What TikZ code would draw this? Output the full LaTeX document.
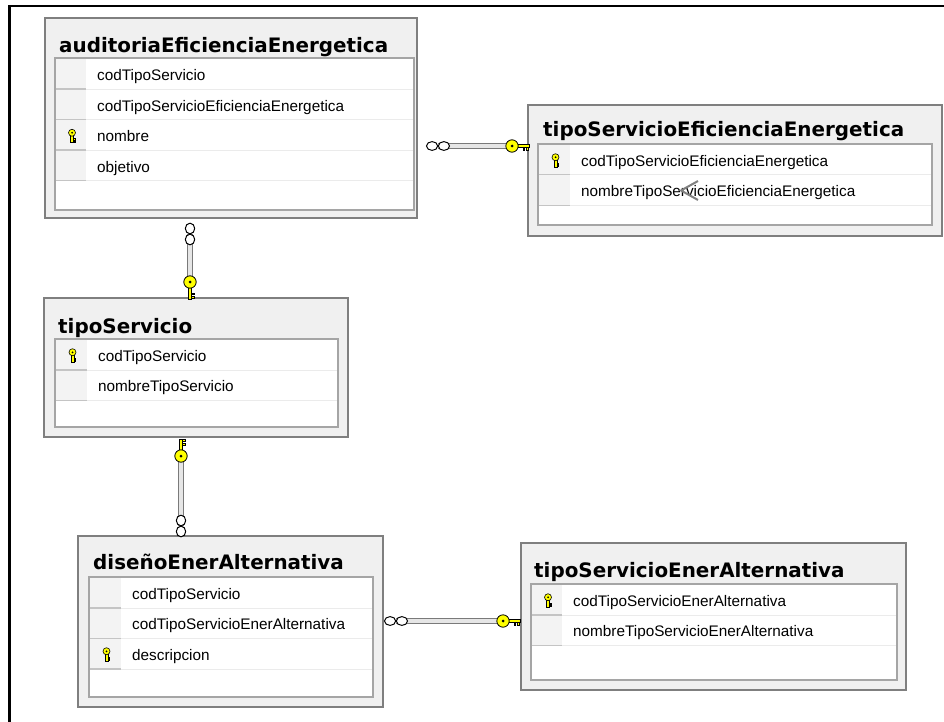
\documentclass[tikz,border=0pt]{standalone}
\usepackage{fontspec}
\setmainfont{Liberation Sans}
\newfontfamily\titlefont{DejaVu Sans}
\usetikzlibrary{calc}

\definecolor{boxfill}{HTML}{F0F0F0}
\definecolor{boxedge}{HTML}{7F7F7F}
\definecolor{inneredge}{HTML}{A5A5A5}
\definecolor{keycellfill}{HTML}{F3F3F3}
\definecolor{keycelledge}{HTML}{C4C4C4}
\definecolor{rowline}{HTML}{EBEBEB}
\definecolor{keyyellow}{HTML}{FFFF00}
\definecolor{pipeedge}{HTML}{7A7A7A}
\definecolor{pipecore}{HTML}{E6E6E6}
\definecolor{cursorgray}{HTML}{808080}

\tikzset{
  tablebox/.style={draw=boxedge, fill=boxfill, line width=1.5pt, anchor=north west,
                   inner sep=0pt, outer sep=0pt},
  innerbox/.style={draw=inneredge, fill=white, line width=1.1pt, anchor=north west,
                   inner sep=0pt, outer sep=0pt},
  tabletitle/.style={anchor=base west, inner sep=0pt,
                     font=\titlefont\bfseries\fontsize{19.9}{22}\selectfont},
  rowtext/.style={anchor=base west, inner sep=0pt, font=\fontsize{15.3}{18}\selectfont},
  pipe edge/.style={draw=pipeedge, line width=6.5pt},
  pipe core/.style={draw=pipecore, line width=3.5pt},
  keypart/.style={fill=keyyellow, draw=black, line width=0.8pt},
  % small primary-key glyph inside a row
  pkkey/.pic={
    \filldraw[keypart, line width=0.6pt] (-1.3,-0.5) rectangle (1.3,7);
    \filldraw[keypart, line width=0.6pt] (1.3,2.8) rectangle (3.2,4.1) (1.3,5.2) rectangle (3.2,6.5);
    \filldraw[keypart, line width=0.6pt] (0,-3) circle (3.5);
    \fill[black] (0,-3) circle (1);
  },
  % relationship key, shaft pointing right
  hkey/.pic={
    \filldraw[keypart] (0,-1.5) rectangle (17,1.5);
    \filldraw[keypart] (11,1.5) rectangle (12.8,4.2) (14.5,1.5) rectangle (16.3,4.2);
    \filldraw[keypart] (0,0) circle (6.2);
    \fill[black] (0,0) circle (1.5);
  },
  % relationship key, shaft pointing down
  vkeydown/.pic={
    \filldraw[keypart] (-1.5,0) rectangle (1.5,17);
    \filldraw[keypart] (1.5,11) rectangle (4.2,12.8) (1.5,14.5) rectangle (4.2,16.3);
    \filldraw[keypart] (0,0) circle (6.2);
    \fill[black] (0,0) circle (1.5);
  },
  % relationship key, shaft pointing up
  vkeyup/.pic={
    \filldraw[keypart] (-1.5,-17) rectangle (1.5,0);
    \filldraw[keypart] (1.5,-12.8) rectangle (4.2,-11) (1.5,-16.3) rectangle (4.2,-14.5);
    \filldraw[keypart] (0,0) circle (6.2);
    \fill[black] (0,0) circle (1.5);
  },
  % "many" end of a relationship
  hinf/.pic={
    \filldraw[fill=white, draw=black, line width=1pt]
      (-5.9,0) ellipse (5.6 and 4.4) (5.9,0) ellipse (5.6 and 4.4);
  },
  vinf/.pic={
    \filldraw[fill=white, draw=black, line width=1pt]
      (0,-5.5) ellipse (4.7 and 5.3) (0,5.5) ellipse (4.7 and 5.3);
  },
}

% one column row: name, left, top, key column width, row width, height, text, key flag
\newcommand\dbrow[8]{%
  \fill[keycellfill] (#2,#3) rectangle ++(#4,#6);
  \draw[keycelledge, line width=1.5pt] (#2,#3+#6-0.75) -- ++(#4,0);
  \draw[rowline, line width=1pt] (#2+#4,#3+#6-0.5) -- (#2+#5,#3+#6-0.5);
  \node[rowtext] (#1) at (#2+#4+11,#3+#6/2+6) {#7};
  \ifnum#8=1 \pic at (#2+#4/2+1,#3+#6/2) {pkkey};\fi
}

\begin{document}
\begin{tikzpicture}[x=1pt,y=-1pt]
\useasboundingbox[fill=white] (0,0) rectangle (944,722);

% frame
\draw[black, line width=2.6pt] (9.5,723) -- (9.5,6) -- (945,6);

% ---- auditoriaEficienciaEnergetica
\node[tablebox, minimum width=372pt, minimum height=200pt] (audit) at (45,18) {};
\node[tabletitle] (auditT) at (59,53) {auditoriaEficienciaEnergetica};
\node[innerbox, minimum width=359pt, minimum height=152pt] (auditI) at (55,58) {};
\dbrow{audit1}{56}{59.5}{30}{357}{30.5}{codTipoServicio}{0}
\dbrow{audit2}{56}{90}{30}{357}{30.5}{codTipoServicioEficienciaEnergetica}{0}
\dbrow{audit3}{56}{120.5}{30}{357}{30.5}{nombre}{1}
\dbrow{audit4}{56}{151}{30}{357}{30.5}{objetivo}{0}

% ---- tipoServicioEficienciaEnergetica
\node[tablebox, minimum width=414pt, minimum height=131pt] (tse) at (528,105) {};
\node[tabletitle] (tseT) at (543,137) {tipoServicioEficienciaEnergetica};
\node[innerbox, minimum width=394pt, minimum height=81pt] (tseI) at (538,144) {};
\dbrow{tse1}{539}{145}{31}{392}{30.5}{codTipoServicioEficienciaEnergetica}{1}
\dbrow{tse2}{539}{175.5}{31}{392}{30.5}{nombreTipoServicioEficienciaEnergetica}{0}

% ---- tipoServicio
\node[tablebox, minimum width=304pt, minimum height=139pt] (ts) at (44,298) {};
\node[tabletitle] (tsT) at (58,333) {tipoServicio};
\node[innerbox, minimum width=283pt, minimum height=88pt] (tsI) at (55,339) {};
\dbrow{ts1}{56}{340}{31}{281}{30.5}{codTipoServicio}{1}
\dbrow{ts2}{56}{370.5}{31}{281}{30.5}{nombreTipoServicio}{0}

% ---- diseñoEnerAlternativa
\node[tablebox, minimum width=305pt, minimum height=171pt] (dis) at (78,536) {};
\node[tabletitle] (disT) at (93,569) {diseñoEnerAlternativa};
\node[innerbox, minimum width=284pt, minimum height=120pt] (disI) at (89,577) {};
\dbrow{dis1}{90}{578}{31}{282}{30.5}{codTipoServicio}{0}
\dbrow{dis2}{90}{608.5}{31}{282}{30.5}{codTipoServicioEnerAlternativa}{0}
\dbrow{dis3}{90}{639}{31}{282}{30.5}{descripcion}{1}

% ---- tipoServicioEnerAlternativa
\node[tablebox, minimum width=385pt, minimum height=147pt] (tsea) at (521,543) {};
\node[tabletitle] (tseaT) at (534,577) {tipoServicioEnerAlternativa};
\node[innerbox, minimum width=366pt, minimum height=96pt] (tseaI) at (531,584) {};
\dbrow{tsea1}{532}{585}{30}{364}{30.5}{codTipoServicioEnerAlternativa}{1}
\dbrow{tsea2}{532}{615.5}{30}{364}{30.5}{nombreTipoServicioEnerAlternativa}{0}

% ---- relationships
\coordinate (aInf) at ($(audit.north east)+(21,128)$);
\coordinate (aKey) at ($(tse.north west)+(-16,41)$);
\coordinate (bInf) at ($(audit.south west)+(145,16)$);
\coordinate (bKey) at ($(ts.north west)+(146,-16)$);
\coordinate (cKey) at ($(ts.south west)+(137,19)$);
\coordinate (cInf) at ($(dis.north west)+(103,-10)$);
\coordinate (dInf) at ($(dis.north east)+(13,85)$);
\coordinate (dKey) at ($(tsea.north west)+(-18,78)$);

\foreach \p/\q in {aInf/aKey, bInf/bKey, cKey/cInf, dInf/dKey}{
  \draw[pipe edge] (\p) -- (\q);
  \draw[pipe core] (\p) -- (\q);
}
\pic at (aInf) {hinf};   \pic at (aKey) {hkey};
\pic at (bInf) {vinf};   \pic at (bKey) {vkeydown};
\pic at (cInf) {vinf};   \pic at (cKey) {vkeyup};
\pic at (dInf) {hinf};   \pic at (dKey) {hkey};

% pointer over the second row
\draw[cursorgray, line width=2pt] (698,181) -- (681,190.5) -- (698,200);
\end{tikzpicture}
\end{document}
